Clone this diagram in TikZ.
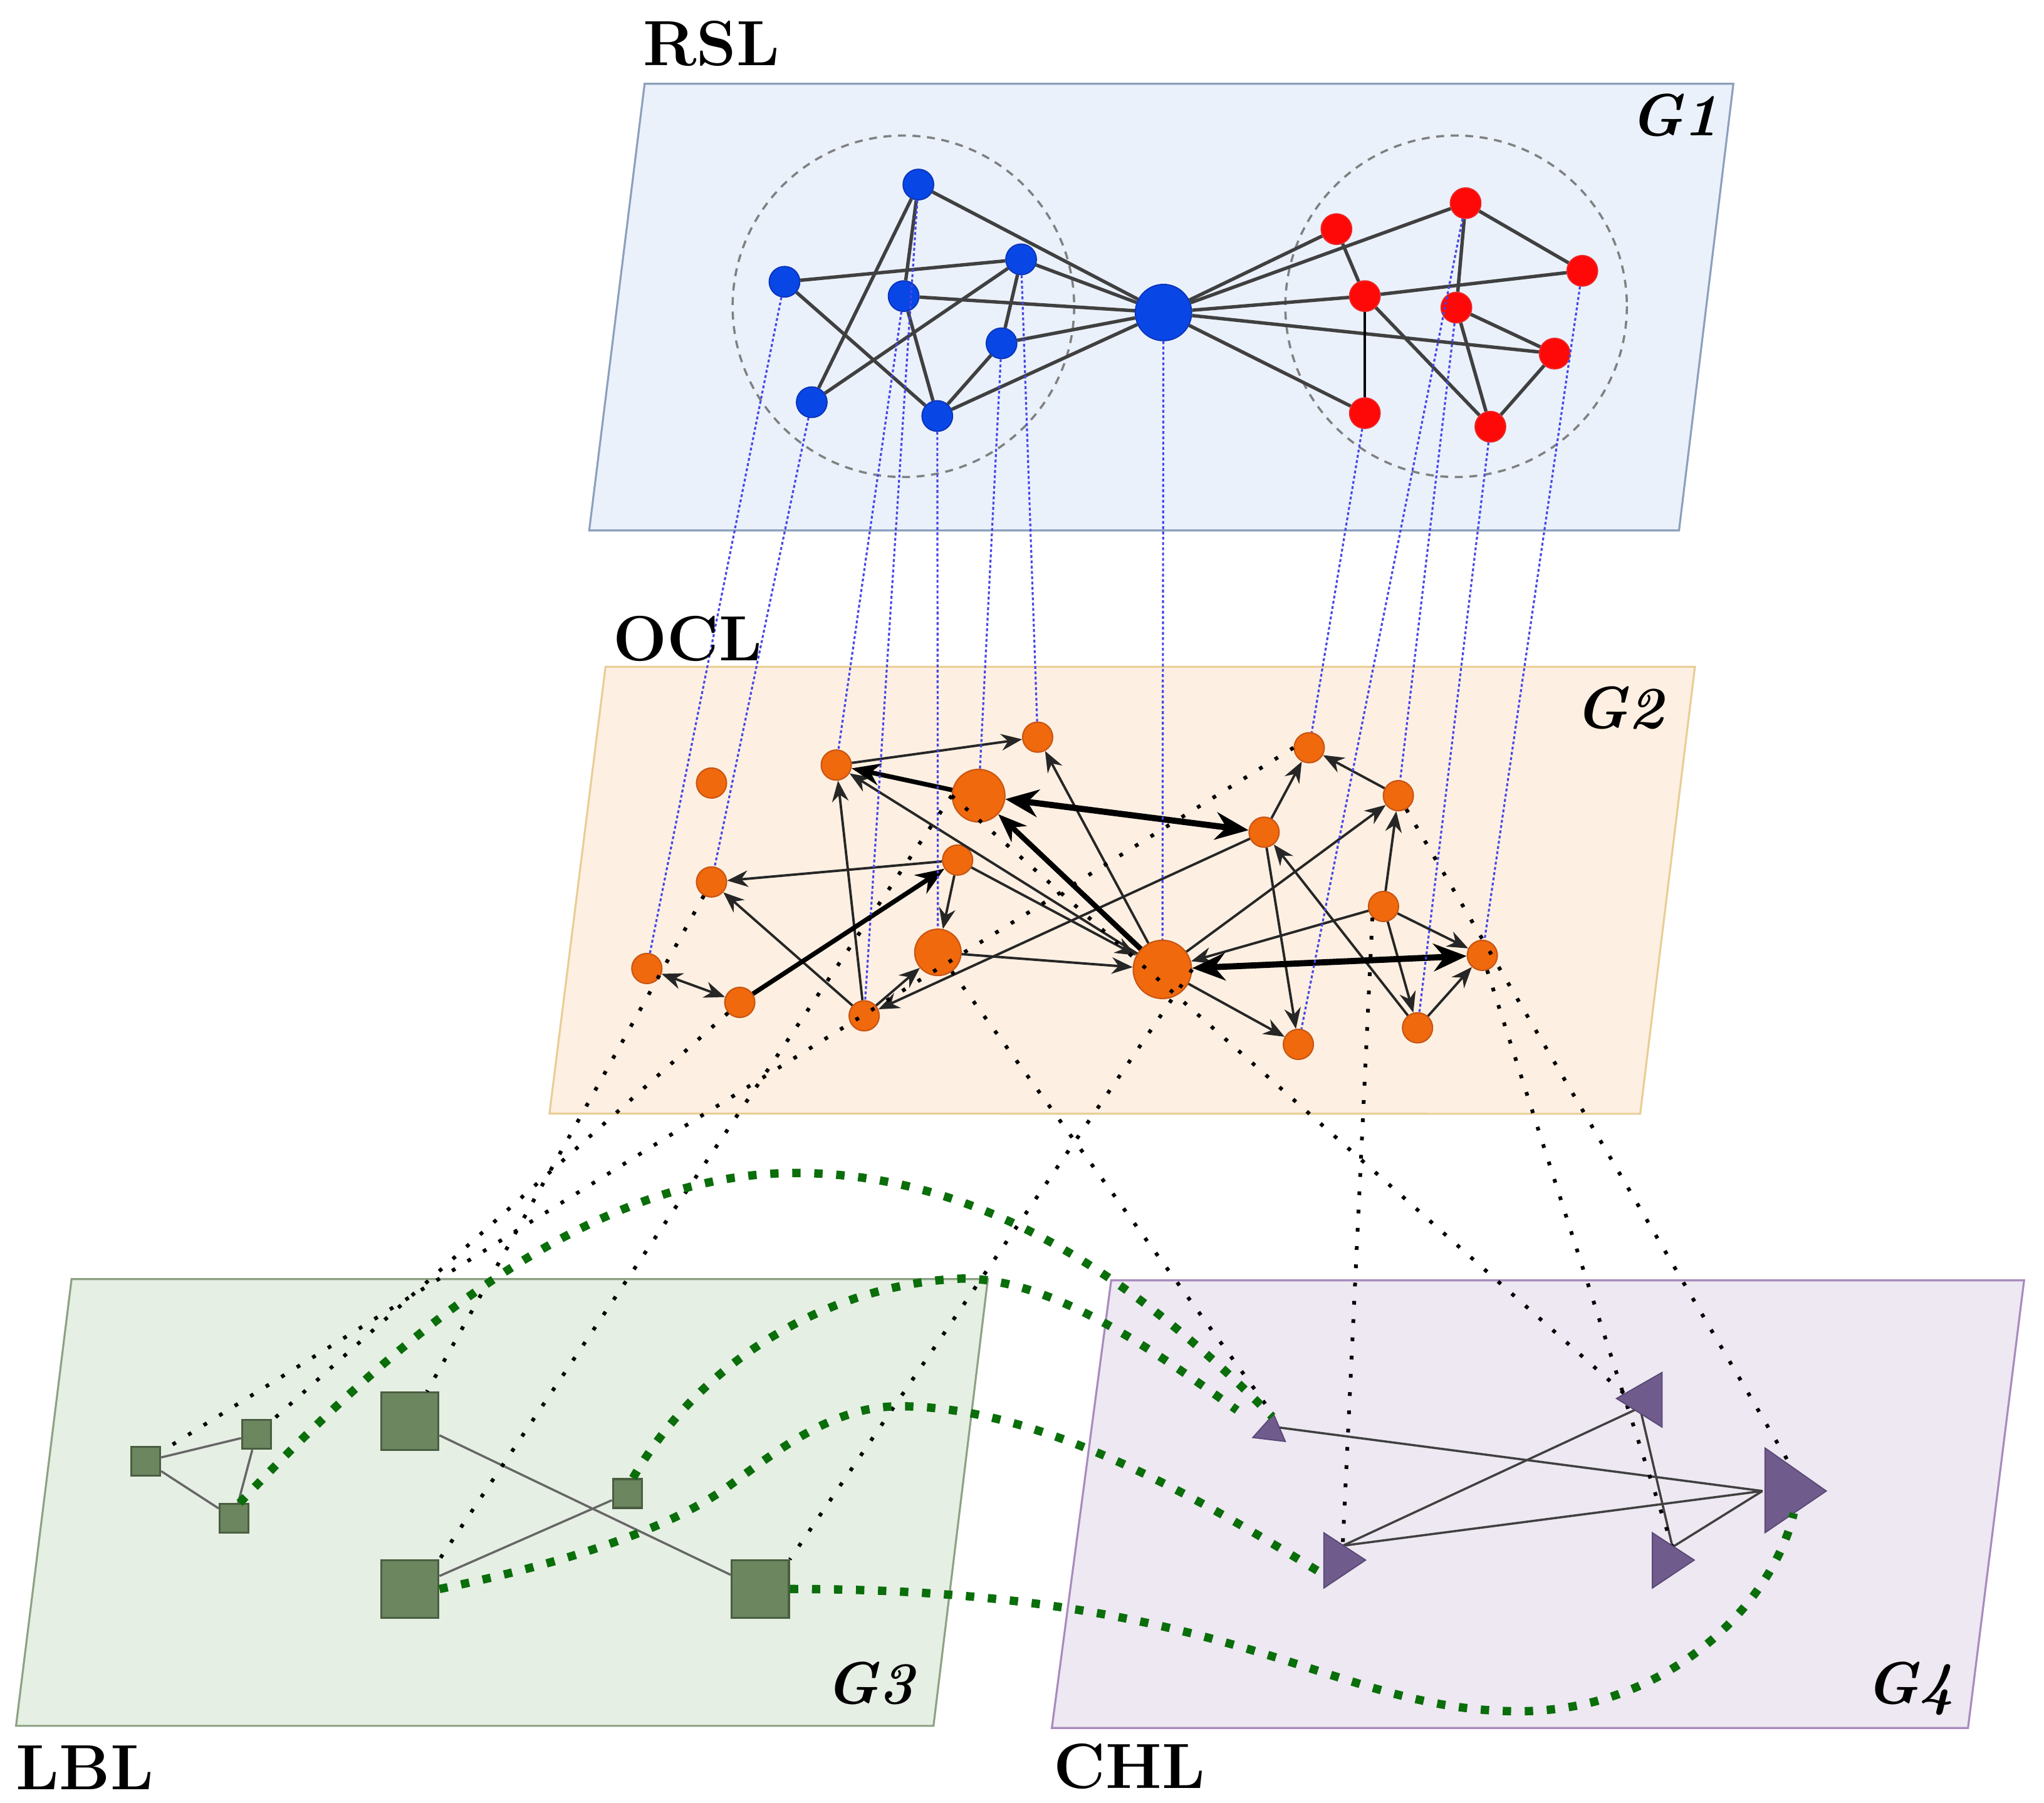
\documentclass[tikz,border=0pt]{standalone}
\usepackage{fontspec}
\usetikzlibrary{arrows.meta}
\definecolor{planeA}{RGB}{234,241,251}
\definecolor{planeAb}{RGB}{140,160,188}
\definecolor{planeB}{RGB}{253,240,226}
\definecolor{planeBb}{RGB}{232,206,150}
\definecolor{planeC}{RGB}{230,239,228}
\definecolor{planeCb}{RGB}{140,162,132}
\definecolor{planeD}{RGB}{237,232,241}
\definecolor{planeDb}{RGB}{168,138,190}
\definecolor{nblue}{RGB}{8,70,230}
\definecolor{nblueb}{RGB}{10,50,180}
\definecolor{nred}{RGB}{255,8,8}
\definecolor{nredb}{RGB}{235,40,40}
\definecolor{norange}{RGB}{240,105,12}
\definecolor{norangeb}{RGB}{200,85,20}
\definecolor{sqfill}{RGB}{108,134,96}
\definecolor{sqbord}{RGB}{74,94,64}
\definecolor{trifill}{RGB}{112,92,140}
\definecolor{tribord}{RGB}{88,70,118}
\definecolor{bluelink}{RGB}{70,70,235}
\definecolor{dgreen}{RGB}{10,110,10}
\begin{document}
\begin{tikzpicture}[x=0.20804mm,y=-0.20804mm,
  plane/.style={line width=0.9pt},
  gedge/.style={draw=black!75,line width=1.55pt},
  bnode/.style={circle,fill=nblue,draw=nblueb,line width=0.5pt,inner sep=0pt,minimum size=4.9mm},
  bignode/.style={bnode,minimum size=9mm},
  rnode/.style={circle,fill=nred,draw=nredb,line width=0.5pt,inner sep=0pt,minimum size=4.9mm},
  onode/.style={circle,fill=norange,draw=norangeb,line width=0.6pt,inner sep=0pt,minimum size=4.8mm},
  onodeL/.style={onode,minimum size=8.4mm},
  onodeM/.style={onode,minimum size=7.4mm},
  onodeXL/.style={onode,minimum size=9.3mm},
  thinarr/.style={draw=black!85,line width=1.1pt,-{Stealth[length=9.5pt,width=7.5pt]}},
  thinbi/.style={draw=black!85,line width=1.1pt,{Stealth[length=9.5pt,width=7.5pt]}-{Stealth[length=9.5pt,width=7.5pt]}},
  thickarr/.style={draw=black,line width=2.1pt,-{Stealth[length=13pt,width=10pt]}},
  heavybi/.style={draw=black,line width=2.8pt,{Stealth[length=15pt,width=12.5pt]}-{Stealth[length=15pt,width=12.5pt]}},
  sqsmall/.style={rectangle,fill=sqfill,draw=sqbord,line width=0.9pt,inner sep=0pt,minimum size=4.6mm},
  sqbig/.style={sqsmall,minimum size=9.15mm},
  sqedge/.style={draw=black!60,line width=1pt},
  triedge/.style={draw=black!75,line width=1pt},
  tri/.style={fill=trifill,draw=tribord,line width=0.5pt},
  bluelnk/.style={draw=bluelink,line width=0.9pt,dash pattern=on 1.3pt off 1.1pt},
  blkdot/.style={draw=black,line width=1.7pt,dash pattern=on 1.7pt off 6.6pt},
  grn/.style={draw=dgreen,line width=3.8pt,dash pattern=on 3.8pt off 6.2pt},
  ring/.style={draw=black!50,line width=1pt,dash pattern=on 3.6pt off 3pt},
  lbl/.style={font=\fontsize{29}{32}\selectfont\bfseries,inner sep=0pt},
  glbl/.style={font=\fontsize{27}{30}\selectfont\bfseries\itshape\addfontfeatures{Numbers=OldStyle},inner sep=0pt}
]
\fill[white] (0,0) rectangle (1568,1383);
\path[use as bounding box] (0,0) rectangle (1568,1383);

% planes
\filldraw[plane,fill=planeA,draw=planeAb] (494.5,64.3) -- (1329.7,64.3) -- (1288,407) -- (452,407) -- cycle;
\filldraw[plane,fill=planeB,draw=planeBb] (464.5,511.6) -- (1300.2,511.6) -- (1258.2,854.6) -- (421.5,854.4) -- cycle;
\filldraw[plane,fill=planeC,draw=planeCb] (54.9,981.4) -- (757.8,981.4) -- (716.1,1324.2) -- (12.3,1324.2) -- cycle;
\filldraw[plane,fill=planeD,draw=planeDb] (852.4,982.4) -- (1552.7,982.4) -- (1509.7,1325.8) -- (806.9,1325.8) -- cycle;

% G1 community rings
\draw[ring] (693,235) circle[radius=131];
\draw[ring] (1117,235) circle[radius=131];

% G1 nodes
\node[bnode] (b1) at (704.5,141.6) {};
\node[bnode] (b2) at (601.8,216.2) {};
\node[bnode] (b3) at (693.2,227.2) {};
\node[bnode] (b4) at (783.3,199) {};
\node[bnode] (b5) at (768.3,263.4) {};
\node[bnode] (b6) at (622.7,308.6) {};
\node[bnode] (b7) at (719,319.2) {};
\node[bignode] (bc) at (892.5,239.8) {};
\node[rnode] (r1) at (1025.2,175.8) {};
\node[rnode] (r2) at (1124.3,155.9) {};
\node[rnode] (r3) at (1213.8,207.8) {};
\node[rnode] (r4) at (1047,227.2) {};
\node[rnode] (r5) at (1117.2,236) {};
\node[rnode] (r6) at (1192.6,271.3) {};
\node[rnode] (r7) at (1047,317) {};
\node[rnode] (r8) at (1143.3,327.4) {};

% G1 edges
\foreach \a/\b in {b1/b6,b1/b3,b1/bc,b2/b4,b2/b7,b3/bc,b3/b7,b4/b6,b4/b5,b4/bc,b5/bc,b5/b7,b7/bc,
  bc/r1,bc/r2,bc/r4,bc/r6,bc/r7,r1/r4,r2/r5,r2/r3,r4/r3,r4/r8,r5/r6,r5/r8,r6/r8}
  \draw[gedge] (\a) -- (\b);
\draw[draw=black,line width=1pt] (r4) -- (r7);

% G2 nodes
\node[onode] (oa) at (545.8,600.8) {};
\node[onode] (ob) at (641.5,587) {};
\node[onode] (oc) at (796,565.6) {};
\node[onodeL] (obig) at (750.7,610.5) {};
\node[onode] (od) at (969.7,638.5) {};
\node[onode] (oe) at (734.6,659.9) {};
\node[onode] (of) at (545.8,676.7) {};
\node[onodeM] (og) at (719.5,730.7) {};
\node[onodeXL] (oh) at (891.7,743.8) {};
\node[onode] (oi) at (496.2,743.1) {};
\node[onode] (oj) at (567.5,769.1) {};
\node[onode] (ok) at (662.9,779.4) {};
\node[onode] (ol) at (1004.3,573.7) {};
\node[onode] (om) at (1072.7,610.5) {};
\node[onode] (on) at (1061.3,695.5) {};
\node[onode] (oo) at (1137.1,733) {};
\node[onode] (op) at (996,801.3) {};
\node[onode] (oq) at (1087.4,788.6) {};

% G2 arrows
\foreach \a/\b in {ob/oc,ok/ob,oh/oc,oh/ob,oe/of,oe/og,oe/oh,og/oh,ok/of,ok/og,od/ok,oh/op,
  od/ol,om/ol,oh/om,on/oh,on/om,od/op,oq/od,on/oq,on/oo,oq/oo}
  \draw[thinarr] (\a) -- (\b);
\draw[thinbi] (oi) -- (oj);
\draw[thickarr] (obig) -- (ob);
\draw[thickarr,line width=2.4pt] (oh) -- (obig);
\draw[thickarr] (oj) -- (oe);
\draw[heavybi] (obig) -- (od);
\draw[heavybi] (oh) -- (oo);

% G3 nodes
\node[sqsmall] (s1) at (111.8,1121.1) {};
\node[sqsmall] (s2) at (196.7,1100.6) {};
\node[sqsmall] (s3) at (179.5,1165) {};
\node[sqbig] (s4) at (314.4,1090.4) {};
\node[sqbig] (s5) at (314.4,1219.2) {};
\node[sqsmall] (s6) at (481.2,1145.9) {};
\node[sqbig] (s7) at (583.2,1219.2) {};
\foreach \a/\b in {s1/s2,s1/s3,s2/s3,s4/s7,s5/s6}
  \draw[sqedge] (\a) -- (\b);

% G4 attachment points
\coordinate (t1) at (979,1095);
\coordinate (t2) at (1258,1080);
\coordinate (t3) at (1352,1144);
\coordinate (t4) at (1030,1186);
\coordinate (t5) at (1283,1187);
\foreach \a/\b in {t1/t3,t4/t2,t4/t3,t2/t5,t5/t3}
  \draw[triedge] (\a) -- (\b);

% G1 -> G2 links
\foreach \a/\b in {b1/ok,b2/oi,b3/ob,b4/oc,b5/obig,b6/of,b7/og,bc/oh,r2/op,r3/oo,r5/om,r7/ol,r8/oq}
  \draw[bluelnk] (\a) -- (\b);

% G2 -> G3 / G4 links
\draw[blkdot] (ol.west) -- (s1);
\draw[blkdot] (oj) -- (s2);
\draw[blkdot] (of) -- (s4.60);
\draw[blkdot] (obig.west) -- (s5.north east);
\draw[blkdot] (oh.east) -- (s7.north east);
\draw[blkdot] (og) -- ([shift={(-2,-9)}]t1);
\draw[blkdot] (obig.west) -- (t2);
\draw[blkdot] (on.south west) -- (t4);
\draw[blkdot] (oo) -- (t5);
\draw[blkdot] (om) -- ([shift={(19,-24)}]t3);

% G4 triangles
\filldraw[tri] (977,1085) -- (961,1103) -- (986,1106) -- cycle;
\filldraw[tri] (1275,1053) -- (1275,1095) -- (1240,1073) -- cycle;
\filldraw[tri] (1354,1111) -- (1354,1176) -- (1401,1144) -- cycle;
\filldraw[tri] (1015.5,1176) -- (1015.5,1218.5) -- (1047.6,1197) -- cycle;
\filldraw[tri] (1267.5,1176) -- (1267.5,1218.5) -- (1299.7,1197) -- cycle;

% G3 <-> G4 links
\draw[grn] (s3.70) .. controls (300,1030) and (450,900) .. (610,900)
  .. controls (760,900) and (880,990) .. ([shift={(-3,-8)}]t1);
\draw[grn] (s6.70) .. controls (540,1040) and (640,985) .. (738,981)
  .. controls (810,981) and (890,1040) .. ([shift={(-30,-13)}]t1);
\draw[grn] (s5.east) .. controls (430,1200) and (510,1175) .. (558,1141)
  .. controls (600,1110) and (640,1079) .. (690,1079)
  .. controls (800,1079) and (920,1150) .. ([shift={(-18,20)}]t4);
\draw[grn] (s7.east) .. controls (950,1219) and (1020,1313) .. (1165,1313)
  .. controls (1280,1313) and (1360,1230) .. ([shift={(24,17)}]t3);

% labels
\node[lbl,anchor=base west] (rsl) at (493,50) {RSL};
\node[lbl,anchor=base west] (ocl) at (470,507) {OCL};
\node[lbl,anchor=base west] (lbl) at (12,1373) {LBL};
\node[lbl,anchor=base west] (chl) at (808,1372) {CHL};
\node[glbl,anchor=base west] (g1) at (1250,104) {G1};
\node[glbl,anchor=base west] (g2) at (1208,559) {G2};
\node[glbl,anchor=base west] (g3) at (633,1307) {G3};
\node[glbl,anchor=base west] (g4) at (1431,1307) {G4};
\end{tikzpicture}
\end{document}
